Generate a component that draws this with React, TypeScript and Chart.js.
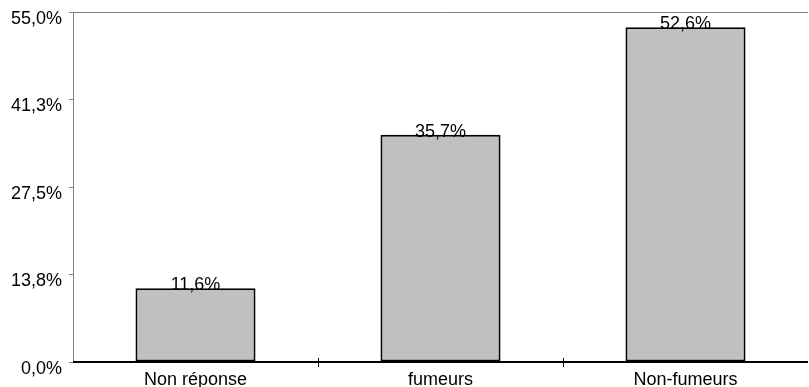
import React, { useEffect, useRef } from "react";
import { Chart, registerables } from "chart.js";

Chart.register(...registerables);

const categories = ["Non réponse", "fumeurs", "Non-fumeurs"];
const values = [11.6, 35.7, 52.6];
const yMax = 55;
const yStep = 13.75;

const FONT = "'Liberation Sans', Arial, sans-serif";
const fmt = (v: number) => v.toFixed(1).replace(".", ",") + "%";

const decorPlugin = {
  id: "decor",
  afterDatasetsDraw(chart: any) {
    const { ctx, chartArea, scales } = chart;
    const x = scales.x;
    ctx.save();
    // top border
    ctx.strokeStyle = "#808080";
    ctx.lineWidth = 1;
    ctx.beginPath();
    ctx.moveTo(chartArea.left, chartArea.top + 0.5);
    ctx.lineTo(chartArea.right, chartArea.top + 0.5);
    ctx.stroke();
    // x axis line
    ctx.strokeStyle = "#000";
    ctx.lineWidth = 2;
    ctx.beginPath();
    ctx.moveTo(chartArea.left, chartArea.bottom);
    ctx.lineTo(chartArea.right, chartArea.bottom);
    ctx.stroke();
    // category boundary ticks
    ctx.lineWidth = 1;
    for (let i = 1; i < categories.length; i++) {
      const px = Math.round((x.getPixelForValue(i - 1) + x.getPixelForValue(i)) / 2) + 0.5;
      ctx.beginPath();
      ctx.moveTo(px, chartArea.bottom - 4);
      ctx.lineTo(px, chartArea.bottom + 5);
      ctx.stroke();
    }
    // value labels
    const meta = chart.getDatasetMeta(0);
    ctx.fillStyle = "#000";
    ctx.font = "18px " + FONT;
    ctx.textAlign = "center";
    ctx.textBaseline = "alphabetic";
    meta.data.forEach((bar: any, i: number) => {
      ctx.fillText(fmt(values[i]), bar.x, bar.y + 2);
    });
    ctx.restore();
  },
};

export default function App() {
  const ref = useRef<HTMLCanvasElement>(null);
  useEffect(() => {
    document.body.style.margin = "0";
    const chart = new Chart(ref.current!, {
      type: "bar",
      data: {
        labels: categories,
        datasets: [
          {
            data: values,
            backgroundColor: "#c0c0c0",
            borderColor: "#000",
            borderWidth: 2,
            borderSkipped: false,
            barPercentage: 0.98,
            categoryPercentage: 0.5,
          },
        ],
      },
      options: {
        responsive: false,
        animation: false,
        maintainAspectRatio: false,
        layout: { padding: { top: 12, right: 1, left: 0, bottom: 0 } },
        plugins: { legend: { display: false }, tooltip: { enabled: false } },
        scales: {
          x: {
            grid: { display: false, drawTicks: false },
            border: { display: false },
            ticks: {
              color: "#000",
              font: { family: FONT, size: 18 },
              padding: 7,
              maxRotation: 0,
            },
            afterFit: (s: any) => {
              s.height = 25;
              s.paddingLeft = 0;
              s.paddingRight = 0;
            },
          },
          y: {
            min: 0,
            max: yMax,
            grid: { drawOnChartArea: false, color: "#808080", tickLength: 4 },
            border: { color: "#808080", width: 1 },
            ticks: {
              stepSize: yStep,
              color: "#000",
              font: { family: FONT, size: 18 },
              labelOffset: 7,
              padding: 7,
              callback: (v: any) => fmt(Number(v)),
            },
            afterFit: (s: any) => {
              s.width = 73;
              s.paddingTop = 0;
              s.paddingBottom = 0;
            },
          },
        },
      },
      plugins: [decorPlugin],
    });
    return () => chart.destroy();
  }, []);
  return (
    <div style={{ position: "absolute", left: 0, top: 0, width: 809, height: 387 }}>
      <canvas ref={ref} width={809} height={387} />
    </div>
  );
}
